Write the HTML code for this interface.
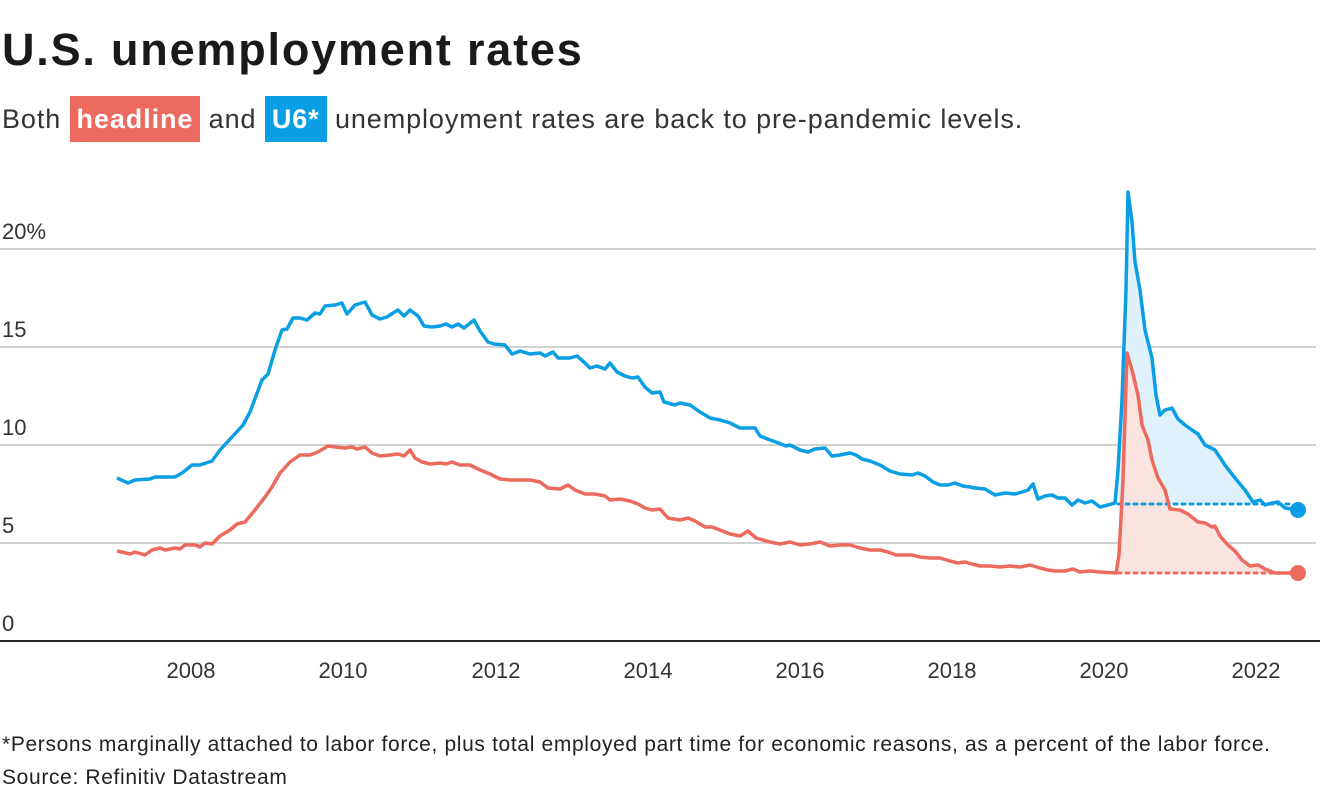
<!DOCTYPE html>
<html><head><meta charset="utf-8"><style>
body{margin:0;background:#fff;width:1320px;height:800px;overflow:hidden;font-family:"Liberation Sans",sans-serif;color:#222}
.t{position:absolute;left:2px;top:24px;font-size:45px;font-weight:bold;letter-spacing:1.8px;color:#1a1a1a}
.s{position:absolute;left:2px;top:104px;font-size:27px;letter-spacing:0.9px;color:#333;white-space:nowrap}
.s span{color:#fff;font-weight:bold;padding:8px 7px}
.f{position:absolute;left:2px;font-size:21px;letter-spacing:0.65px;color:#222;white-space:nowrap}
</style></head><body>
<div class="t">U.S. unemployment rates</div>
<div class="s">Both <span style="background:#ec6a5e">headline</span> and <span style="background:#0a9fe4">U6*</span> unemployment rates are back to pre-pandemic levels.</div>
<svg width="1320" height="800" style="position:absolute;left:0;top:0">
<g stroke="#c4c4c4" stroke-width="1.5">
<line x1="0" x2="1316" y1="249" y2="249"/><line x1="0" x2="1316" y1="347" y2="347"/><line x1="0" x2="1316" y1="445" y2="445"/><line x1="0" x2="1316" y1="543" y2="543"/>
</g>
<line x1="0" x2="1320" y1="641" y2="641" stroke="#222" stroke-width="2"/>
<g font-size="22" fill="#333" font-family="Liberation Sans,sans-serif">
<text x="2" y="239">20%</text><text x="2" y="337">15</text><text x="2" y="435">10</text><text x="2" y="533">5</text><text x="2" y="631">0</text>
<g text-anchor="middle"><text x="191" y="678">2008</text><text x="343" y="678">2010</text><text x="496" y="678">2012</text><text x="648" y="678">2014</text><text x="800" y="678">2016</text><text x="952" y="678">2018</text><text x="1104" y="678">2020</text><text x="1256" y="678">2022</text></g>
</g>
<polygon fill="#dff1fb" points="1116,504 1118,470 1122,400 1126,290 1128,192 1132,222 1135,262 1140,290 1145,330 1152,358 1156,395 1160,415 1165,410 1172,408 1178,419 1185,425 1192,430 1198,434 1205,445 1215,450 1225,465 1235,478 1245,490 1253,504"/>
<polygon fill="#fbe3e0" points="1116,573 1119,555 1123,480 1127,353 1132,370 1138,395 1142,425 1148,440 1152,460 1158,478 1165,490 1170,509 1180,510 1188,514 1198,522 1205,523 1212,527 1215,526 1220,536 1228,545 1235,551 1242,560 1250,566 1258,565 1265,569 1270,573"/>
<line x1="1118" x2="1290" y1="504" y2="504" stroke="#0a9fe4" stroke-width="3" stroke-dasharray="3,5" stroke-linecap="round"/>
<line x1="1118" x2="1290" y1="573" y2="573" stroke="#ec6a5e" stroke-width="3" stroke-dasharray="3,5" stroke-linecap="round"/>
<polyline fill="none" stroke="#0a9fe4" stroke-width="3.5" stroke-linejoin="round" points="117,478 128,483 135,480 150,479 155,477 175,477 182,473 192,465 200,465 212,461 220,450 232,437 243,425 250,412 262,380 268,374 275,350 282,330 287,329 293,318 300,318 307,320 315,313 320,314 325,306 335,305 342,303 347,314 355,305 365,302 372,315 380,319 387,317 393,313 398,310 404,316 410,310 418,316 424,326 432,327 440,326 446,324 452,327 458,324 464,328 474,320 480,331 488,342 494,344 505,345 512,354 520,351 530,354 540,353 545,356 553,352 558,358 570,358 577,356 585,363 590,368 597,366 605,369 610,363 617,372 625,376 632,378 638,377 645,387 652,393 660,392 664,402 675,405 680,403 690,405 700,412 710,418 720,420 730,423 740,428 755,428 760,436 770,440 776,442 786,446 790,445 800,450 808,452 815,449 825,448 832,456 840,455 850,453 856,455 862,459 870,461 880,465 890,471 900,474 912,475 918,473 925,476 933,482 940,485 948,485 955,483 963,486 970,487 975,488 985,489 995,495 1005,493 1015,494 1022,492 1028,490 1033,484 1038,499 1045,496 1052,495 1058,498 1065,498 1072,505 1078,500 1085,503 1092,501 1100,507 1108,505 1115,503 1118,470 1122,400 1126,290 1128,192 1132,222 1135,262 1140,290 1145,330 1152,358 1156,395 1160,415 1165,410 1172,408 1178,419 1185,425 1192,430 1198,434 1205,445 1215,450 1225,465 1235,478 1245,490 1253,502 1260,500 1265,505 1272,503 1278,502 1285,508 1298,510"/>
<polyline fill="none" stroke="#ec6a5e" stroke-width="3.5" stroke-linejoin="round" points="117,551 130,554 135,552 145,555 152,550 160,548 165,550 175,548 180,549 185,545 195,545 200,547 205,543 212,544 220,536 230,530 237,524 245,522 255,510 265,497 272,487 280,473 290,462 300,455 310,455 318,452 328,446 335,447 345,448 352,447 357,449 365,447 372,453 380,456 390,455 398,454 404,456 410,450 415,458 422,462 430,464 440,463 446,464 452,462 460,465 470,465 478,469 490,474 500,479 510,480 530,480 540,482 548,488 560,489 568,485 575,490 585,494 595,494 605,496 610,500 620,499 630,501 638,504 645,508 652,510 660,509 668,518 680,520 688,518 695,521 705,527 712,527 720,530 730,534 740,536 748,531 756,538 770,542 780,544 790,542 800,545 810,544 820,542 830,546 840,545 850,545 860,548 870,550 880,550 888,552 896,555 912,555 920,557 930,558 940,558 950,561 958,563 965,562 972,564 980,566 990,566 1000,567 1010,566 1020,567 1030,565 1040,568 1048,570 1055,571 1065,571 1073,569 1080,572 1090,571 1100,572 1116,573 1119,555 1123,480 1127,353 1132,370 1138,395 1142,425 1148,440 1152,460 1158,478 1165,490 1170,509 1180,510 1188,514 1198,522 1205,523 1212,527 1215,526 1220,536 1228,545 1235,551 1242,560 1250,566 1258,565 1265,569 1275,573 1298,573"/>
<circle cx="1298" cy="510" r="8" fill="#0a9fe4"/>
<circle cx="1298" cy="573" r="8" fill="#ec6a5e"/>
</svg>
<div class="f" style="top:733px">*Persons marginally attached to labor force, plus total employed part time for economic reasons, as a percent of the labor force.</div>
<div class="f" style="top:766px">Source: Refinitiv Datastream</div>
</body></html>
